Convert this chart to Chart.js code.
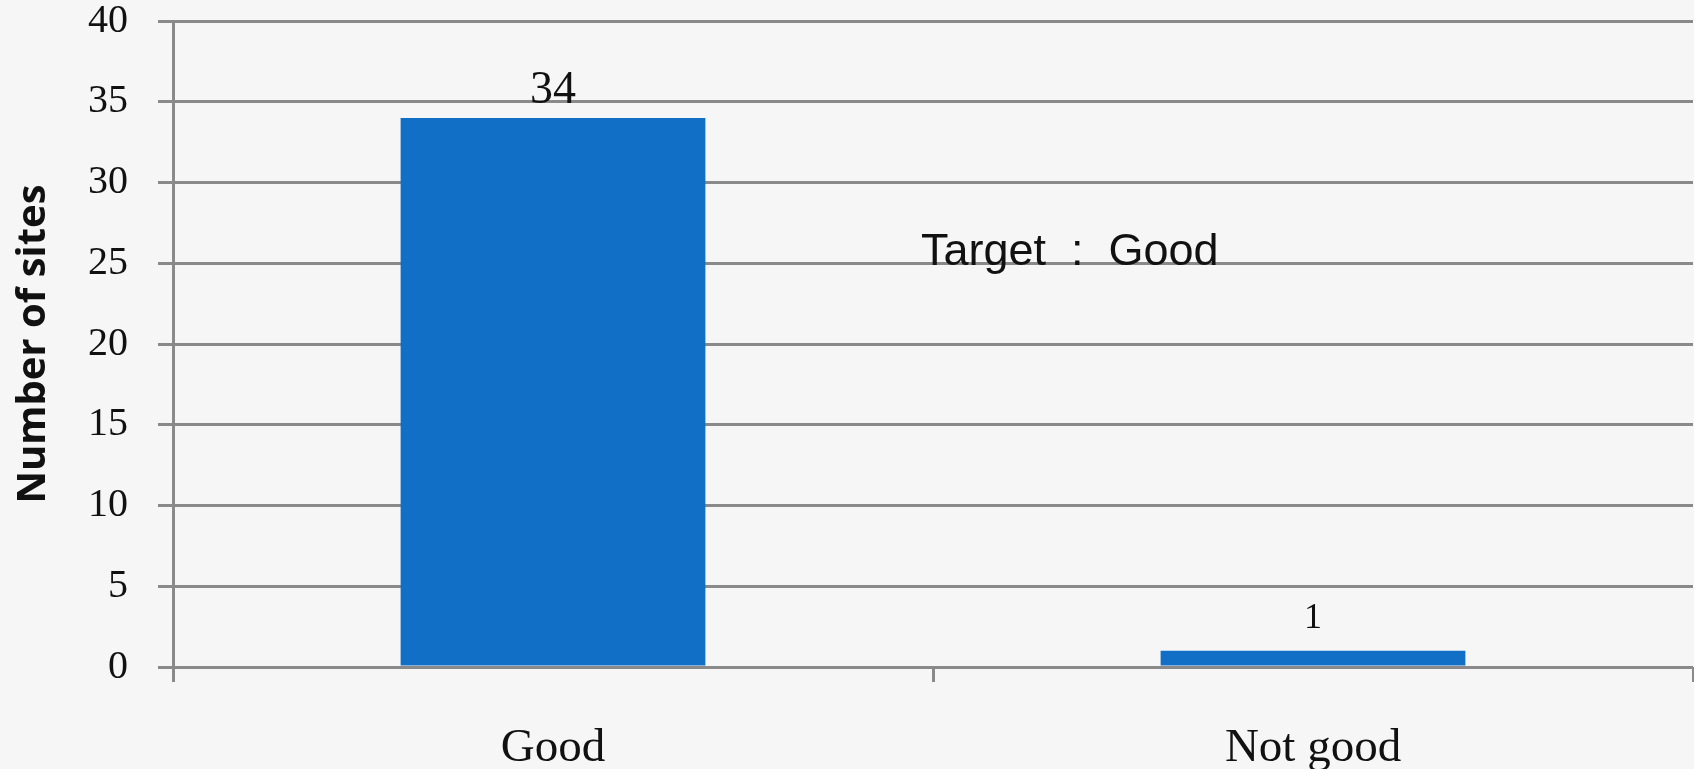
<!DOCTYPE html>
<html>
<head>
<meta charset="utf-8">
<script src="https://cdn.jsdelivr.net/npm/chart.js@4.4.1/dist/chart.umd.min.js"></script>
<style>
    html, body { margin: 0; padding: 0; background: #f6f6f6; }
    #wrap { width: 1694px; height: 769px; }
</style>
</head>
<body>
<div id="wrap"><canvas id="sitesChart" width="1694" height="769"></canvas></div>
<script>
const categories = ['Good', 'Not good'];
const sites = [34, 1];
const yTicks = [0, 5, 10, 15, 20, 25, 30, 35, 40];
const note = 'Target  :  Good';

// value labels above the bars + the "Target : Good" note
const labelPlugin = {
    id: 'labels',
    afterDatasetsDraw(chart) {
        const ctx = chart.ctx;
        const meta = chart.getDatasetMeta(0);
        const sizes = [46, 36];
        const gaps = [15, 23];
        ctx.save();
        ctx.fillStyle = '#111';
        ctx.textAlign = 'center';
        ctx.textBaseline = 'alphabetic';
        meta.data.forEach((bar, i) => {
            ctx.font = sizes[i] + 'px "Liberation Serif"';
            ctx.fillText(String(sites[i]), bar.x, bar.y - gaps[i]);
        });
        const x = chart.scales.x.getPixelForValue(0.68);
        const y = chart.scales.y.getPixelForValue(24.9);
        ctx.font = '45px "Liberation Sans"';
        ctx.fillText(note, x, y);
        ctx.restore();
    }
};

const ctx = document.getElementById('sitesChart');
new Chart(ctx, {
    type: 'bar',
    data: {
        labels: categories,
        datasets: [{
            data: sites,
            backgroundColor: '#116fc6',
            borderWidth: 0,
            categoryPercentage: 1,
            barPercentage: 0.401
        }]
    },
    plugins: [labelPlugin],
    options: {
        responsive: false,
        animation: false,
        layout: { padding: { top: 0, right: 1, left: 0, bottom: 0 } },
        plugins: {
            legend: { display: false },
            tooltip: { enabled: false }
        },
        scales: {
            x: {
                offset: true,
                border: { display: false },
                grid: {
                    offset: true,
                    drawOnChartArea: false,
                    color: '#8a8a8a',
                    lineWidth: 3,
                    tickLength: 15
                },
                ticks: {
                    color: '#111',
                    padding: 38,
                    font: { family: 'Liberation Serif', size: 47 }
                },
                afterFit(scale) { scale.height = 102; }
            },
            y: {
                min: 0,
                max: 40,
                afterBuildTicks(scale) {
                    scale.ticks = yTicks.map(v => ({ value: v }));
                },
                border: { display: true, color: '#8a8a8a', width: 3 },
                grid: {
                    color: '#8a8a8a',
                    lineWidth: 3,
                    tickLength: 15
                },
                ticks: {
                    color: '#111',
                    padding: 30,
                    font: { family: 'Liberation Serif', size: 40 }
                },
                title: {
                    display: true,
                    text: 'Number of sites',
                    color: '#111',
                    padding: { top: 10, bottom: 0 },
                    font: { family: 'Open Sans', size: 40, weight: 'bold' }
                },
                afterFit(scale) {
                    scale.width = 173;
                    scale.paddingTop = 21;
                    scale.paddingBottom = 0;
                }
            }
        }
    }
});
</script>
</body>
</html>
